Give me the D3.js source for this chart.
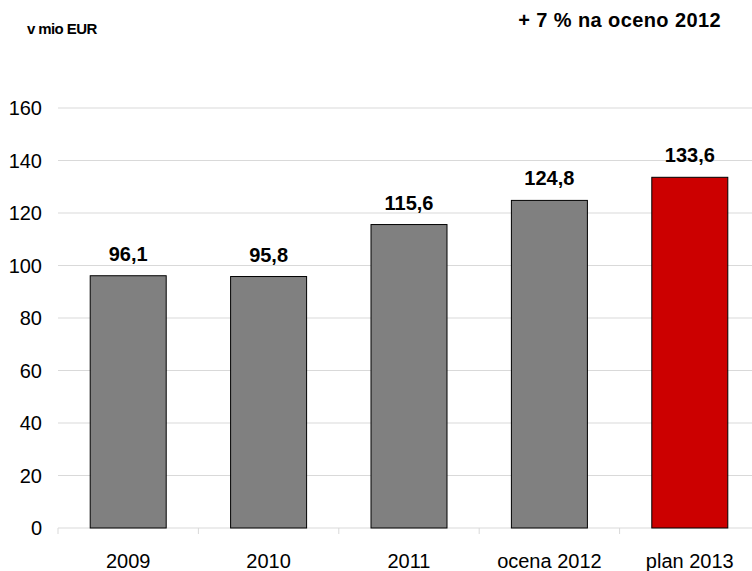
<!DOCTYPE html>
<html>
<head>
<meta charset="utf-8">
<script src="https://cdn.jsdelivr.net/npm/d3@7"></script>
<style>
  body { margin: 0; background: #fff; }
  text { font-family: "Liberation Sans", Arial, sans-serif; }
</style>
</head>
<body>
<svg id="svg1"></svg>
<script>
// data
const categories = ["2009", "2010", "2011", "ocena 2012", "plan 2013"];
const values = [96.1, 95.8, 115.6, 124.8, 133.6];
const labels = ["96,1", "95,8", "115,6", "124,8", "133,6"];
const yTicks = [0, 20, 40, 60, 80, 100, 120, 140, 160];

const width = 752;
const height = 571;
const plotLeft = 58, plotRight = 760, plotTop = 108, plotBottom = 528;

const svg = d3.select('#svg1')
    .attr('width', width)
    .attr('height', height);

const x = d3.scaleBand()
    .domain(categories)
    .range([plotLeft, plotRight]);

const y = d3.scaleLinear()
    .domain([0, 160])
    .range([plotBottom, plotTop]);

// gridlines
svg.append("g")
    .selectAll("line")
    .data(yTicks)
    .enter()
    .append("line")
    .attr("x1", plotLeft)
    .attr("x2", plotRight)
    .attr("y1", d => y(d))
    .attr("y2", d => y(d))
    .attr("stroke", "#d9d9d9")
    .attr("stroke-width", 1);

// y labels
svg.append("g")
    .selectAll("text")
    .data(yTicks)
    .enter()
    .append("text")
    .attr("x", 42)
    .attr("y", d => y(d) + 7)
    .attr("text-anchor", "end")
    .style("font-size", "20px")
    .attr("fill", "#000")
    .text(d => d);

// x axis ticks at category boundaries
const bounds = categories.map(c => x(c)).concat([x.range()[1]]);
svg.append("g")
    .selectAll("line")
    .data(bounds)
    .enter()
    .append("line")
    .attr("x1", d => d)
    .attr("x2", d => d)
    .attr("y1", plotBottom)
    .attr("y2", plotBottom + 6)
    .attr("stroke", "#d9d9d9");

// bars
const barW = 76;
svg.selectAll("rect.bar")
    .data(values)
    .enter()
    .append("rect")
    .attr("class", "bar")
    .attr("x", (d, i) => x(categories[i]) + x.bandwidth() / 2 - barW / 2)
    .attr("y", d => y(d))
    .attr("width", barW)
    .attr("height", d => plotBottom - y(d))
    .attr("fill", (d, i) => i === 4 ? "#cc0000" : "#808080")
    .attr("stroke", "#000")
    .attr("stroke-width", 1);

// value labels
svg.selectAll("text.val")
    .data(values)
    .enter()
    .append("text")
    .attr("class", "val")
    .attr("x", (d, i) => x(categories[i]) + x.bandwidth() / 2)
    .attr("y", d => y(d) - 15)
    .attr("text-anchor", "middle")
    .style("font-size", "20px")
    .style("font-weight", "bold")
    .text((d, i) => labels[i]);

// category labels
svg.selectAll("text.cat")
    .data(categories)
    .enter()
    .append("text")
    .attr("class", "cat")
    .attr("x", d => x(d) + x.bandwidth() / 2)
    .attr("y", 568)
    .attr("text-anchor", "middle")
    .style("font-size", "20px")
    .text(d => d);

// titles
svg.append("text")
    .attr("x", 27)
    .attr("y", 34)
    .style("font-size", "15px")
    .style("font-weight", "bold")
    .style("letter-spacing", "-0.6px")
    .text("v mio EUR");

svg.append("text")
    .attr("x", 721)
    .attr("y", 27)
    .attr("text-anchor", "end")
    .style("font-size", "20px")
    .style("font-weight", "bold")
    .style("letter-spacing", "0.4px")
    .text("+ 7 % na oceno 2012");
</script>
</body>
</html>
